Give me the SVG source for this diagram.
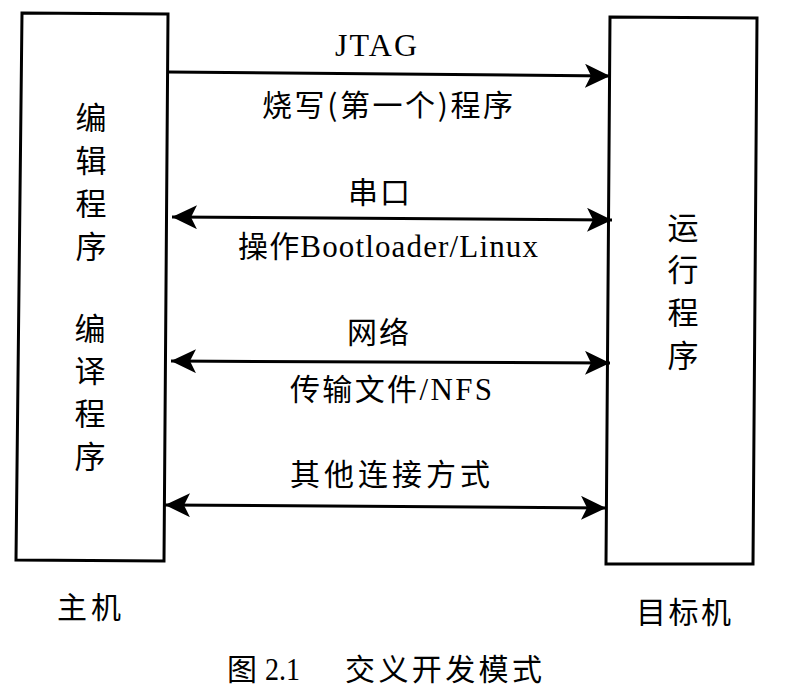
<svg xmlns="http://www.w3.org/2000/svg" width="791" height="697" viewBox="0 0 791 697">
<style>
.box{fill:#fff;stroke:#000;stroke-width:3;stroke-linejoin:miter}
.cn{font-family:"Noto Sans CJK SC","Liberation Serif",serif;font-size:30px;fill:#000}
.lat{font-family:"Liberation Serif","Noto Sans CJK SC",serif;font-size:32px;fill:#000}
.vt{font-family:"Noto Sans CJK SC",serif;font-size:31px;fill:#000;text-anchor:middle}
.ln{stroke:#000;stroke-width:3;fill:none}
</style>
<defs>
<marker id="ah" markerUnits="userSpaceOnUse" markerWidth="27" markerHeight="26" refX="25" refY="12" orient="auto-start-reverse" viewBox="0 0 27 26">
<path d="M0,0 L25,12 L0,24 L6,12 Z" fill="#000"/>
</marker>
</defs>
<rect width="791" height="697" fill="#fff"/>
<g id="host">
<polygon class="box" points="22,13 168,14 164,561 16,560"/>
<text class="vt" x="91" y="129">编</text>
<text class="vt" x="91" y="172">辑</text>
<text class="vt" x="91" y="215">程</text>
<text class="vt" x="91" y="258">序</text>
<text class="vt" x="90" y="340">编</text>
<text class="vt" x="90" y="382">译</text>
<text class="vt" x="90" y="425">程</text>
<text class="vt" x="90" y="468">序</text>
<text class="cn" x="57" y="618" textLength="64" lengthAdjust="spacing">主机</text>
</g>
<g id="target">
<polygon class="box" points="610,17 757,18 753,564 606,564"/>
<text class="vt" x="683" y="239">运</text>
<text class="vt" x="683" y="281">行</text>
<text class="vt" x="683" y="324">程</text>
<text class="vt" x="683" y="367">序</text>
<text class="cn" x="636" y="623" textLength="95" lengthAdjust="spacing">目标机</text>
</g>
<g id="connectors">
<line class="ln" x1="168" y1="72" x2="610" y2="76" marker-end="url(#ah)"/>
<line class="ln" x1="172" y1="217" x2="612" y2="220" marker-start="url(#ah)" marker-end="url(#ah)"/>
<line class="ln" x1="171" y1="361" x2="610" y2="363" marker-start="url(#ah)" marker-end="url(#ah)"/>
<line class="ln" x1="165" y1="505" x2="606" y2="508" marker-start="url(#ah)" marker-end="url(#ah)"/>
</g>
<g id="labels">
<text class="lat" x="335" y="56" textLength="82" lengthAdjust="spacing">JTAG</text>
<text class="cn" x="262" y="116" textLength="251" lengthAdjust="spacing">烧写(第一个)程序</text>
<text class="cn" x="348" y="203" textLength="62" lengthAdjust="spacing">串口</text>
<text class="cn" x="238" y="257" textLength="300" lengthAdjust="spacing">操作<tspan class="lat" style="font-size:31px">Bootloader/Linux</tspan></text>
<text class="cn" x="347" y="343" textLength="62" lengthAdjust="spacing">网络</text>
<text class="cn" x="290" y="400" textLength="202" lengthAdjust="spacing">传输文件<tspan class="lat" style="font-size:31px">/NFS</tspan></text>
<text class="cn" x="290" y="485" textLength="200" lengthAdjust="spacing">其他连接方式</text>
</g>
<g id="caption">
<text class="cn" x="227" y="680">图</text>
<text class="lat" x="265" y="680" textLength="35" lengthAdjust="spacingAndGlyphs">2.1</text>
<text class="cn" x="345" y="680" textLength="197" lengthAdjust="spacing">交义开发模式</text>
</g>
</svg>
